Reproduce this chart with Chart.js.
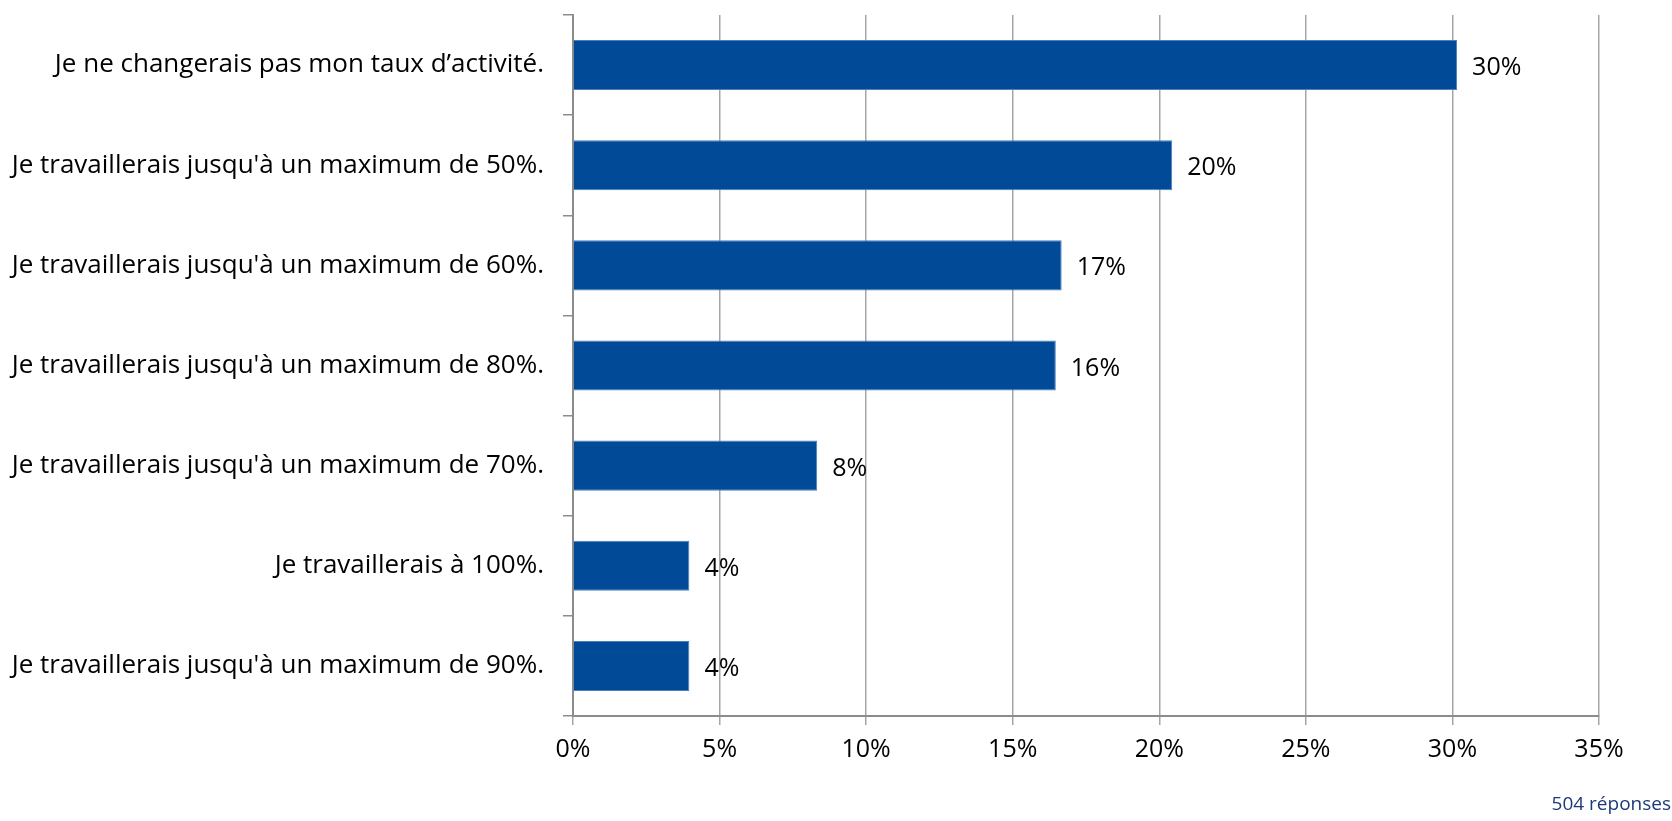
<!DOCTYPE html>
<html>
<head>
<meta charset="utf-8">
<script src="https://cdn.jsdelivr.net/npm/chart.js@4"></script>
<style>
  html, body { margin: 0; padding: 0; background: #fff; }
  #wrap { width: 1672px; height: 821px; }
</style>
</head>
<body>
<div id="wrap"><canvas id="myChart" width="1672" height="821"></canvas></div>
<script>
const categories = [
    'Je ne changerais pas mon taux d\u2019activité.',
    'Je travaillerais jusqu\'à un maximum de 50%.',
    'Je travaillerais jusqu\'à un maximum de 60%.',
    'Je travaillerais jusqu\'à un maximum de 80%.',
    'Je travaillerais jusqu\'à un maximum de 70%.',
    'Je travaillerais à 100%.',
    'Je travaillerais jusqu\'à un maximum de 90%.'
];
const shares = [30.16, 20.44, 16.67, 16.47, 8.33, 3.97, 3.97];
const shareLabels = ['30%', '20%', '17%', '16%', '8%', '4%', '4%'];
const xTicks = [0, 5, 10, 15, 20, 25, 30, 35];
const footnote = '504 réponses';

const fontFamily = '"Open Sans", Lato, sans-serif';

// value labels to the right of each bar + footnote
const valueLabels = {
    id: 'valueLabels',
    afterDatasetsDraw(chart) {
        const c = chart.ctx;
        const meta = chart.getDatasetMeta(0);
        c.save();
        c.font = '25px ' + fontFamily;
        c.fillStyle = '#000';
        c.textBaseline = 'middle';
        c.textAlign = 'left';
        meta.data.forEach((bar, i) => {
            c.fillText(shareLabels[i], bar.x + 15, bar.y + 3);
        });
        c.font = '19px ' + fontFamily;
        c.fillStyle = '#1b3a7a';
        c.textAlign = 'right';
        c.fillText(footnote, chart.width - 1, 805);
        c.restore();
    }
};

const ctx = document.getElementById('myChart').getContext('2d');
const myChart = new Chart(ctx, {
    type: 'bar',
    data: {
        labels: categories,
        datasets: [{
            data: shares,
            backgroundColor: '#004a98',
            borderColor: '#4a7fc0',
            borderWidth: 1,
            barPercentage: 0.5,
            categoryPercentage: 1
        }]
    },
    options: {
        indexAxis: 'y',
        responsive: false,
        animation: false,
        layout: { padding: { top: 15, right: 73, left: 0, bottom: 0 } },
        plugins: {
            legend: { display: false },
            tooltip: { enabled: false }
        },
        scales: {
            x: {
                min: 0,
                max: 35,
                afterBuildTicks: s => { s.ticks = xTicks.map(v => ({ value: v })); },
                afterFit: s => { s.height = 105; s.paddingLeft = 0; s.paddingRight = 0; },
                grid: { color: '#a6a6a6', lineWidth: 1.5, tickLength: 9, tickColor: '#a6a6a6' },
                border: { color: '#8c8c8c', width: 2 },
                ticks: {
                    color: '#000',
                    padding: 10,
                    font: { family: fontFamily, size: 25 },
                    callback: v => v + '%'
                }
            },
            y: {
                afterFit: s => { s.width = 573; s.paddingTop = 0; s.paddingBottom = 0; },
                grid: { offset: true, drawOnChartArea: false, tickLength: 10, color: '#8c8c8c', lineWidth: 1.5 },
                border: { color: '#8c8c8c', width: 2 },
                ticks: {
                    color: '#000',
                    padding: 19,
                    font: { family: fontFamily, size: 26 }
                }
            }
        }
    },
    plugins: [valueLabels]
});
</script>
</body>
</html>
